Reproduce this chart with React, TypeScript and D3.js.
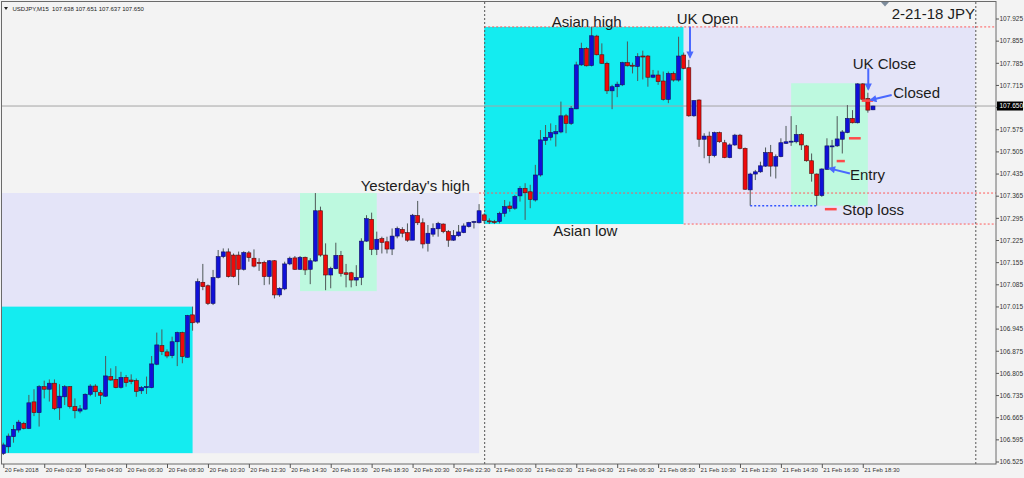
import React from 'react';
import * as d3 from 'd3';

// ---- Data (USDJPY M15, bar index 0 = 21 Feb 00:00) ----
const firstBar = -94;
const opens = [
  106.552,106.573,106.605,106.626,106.647,106.631,106.715,106.681,106.763,106.755,
  106.774,106.696,106.731,106.763,106.700,106.686,106.692,106.739,106.765,106.744,
  106.733,106.795,106.786,106.761,106.792,106.784,106.782,106.750,106.760,106.760,
  106.834,106.893,106.873,106.861,106.905,106.934,106.856,106.990,106.967,107.093,
  107.082,107.026,107.108,107.174,107.189,107.179,107.179,107.134,107.186,107.169,
  107.156,107.156,107.111,107.161,107.053,107.072,107.151,107.170,107.134,107.172,
  107.134,107.160,107.319,107.179,107.116,107.136,107.178,107.123,107.123,107.100,
  107.108,107.223,107.292,107.197,107.231,107.221,107.198,107.239,107.260,107.250,
  107.226,107.304,107.281,107.216,107.245,107.262,107.277,107.253,107.226,107.240,
  107.250,107.269,107.282,107.281,107.306,107.287,107.285,107.285,107.311,107.334,
  107.327,107.366,107.390,107.379,107.353,107.432,107.541,107.551,107.562,107.568,
  107.619,107.595,107.641,107.780,107.832,107.778,107.871,107.812,107.785,107.698,
  107.711,107.717,107.787,107.779,107.775,107.808,107.808,107.741,107.748,107.729,
  107.671,107.753,107.732,107.811,107.771,107.619,107.669,107.545,107.555,107.493,
  107.566,107.534,107.487,107.527,107.558,107.516,107.385,107.435,107.442,107.460,
  107.503,107.460,107.490,107.532,107.537,107.537,107.560,107.524,107.477,107.435,
  107.367,107.450,107.521,107.524,107.545,107.566,107.611,107.597,107.720,107.674,
  107.638,
];
const highs = [
  106.586,106.615,106.642,106.658,106.652,106.737,106.755,106.768,106.782,106.786,
  106.786,106.771,106.768,106.765,106.726,106.705,106.742,106.771,106.771,106.752,
  106.860,106.821,106.828,106.810,106.800,106.802,106.789,106.765,106.795,106.860,
  106.934,106.944,106.881,106.921,106.937,106.937,106.990,107.016,107.105,107.151,
  107.086,107.132,107.195,107.200,107.200,107.184,107.190,107.191,107.192,107.197,
  107.169,107.161,107.163,107.163,107.077,107.158,107.174,107.176,107.176,107.174,
  107.169,107.375,107.332,107.216,107.142,107.218,107.192,107.151,107.126,107.147,
  107.232,107.305,107.313,107.253,107.237,107.237,107.263,107.269,107.267,107.279,
  107.309,107.350,107.295,107.274,107.279,107.284,107.279,107.258,107.258,107.274,
  107.279,107.284,107.287,107.340,107.311,107.295,107.290,107.316,107.353,107.348,
  107.369,107.397,107.406,107.401,107.464,107.574,107.590,107.595,107.590,107.664,
  107.625,107.650,107.790,107.850,107.836,107.901,107.875,107.848,107.790,107.717,
  107.727,107.790,107.854,107.787,107.817,107.825,107.811,107.764,107.762,107.759,
  107.759,107.759,107.869,107.819,107.796,107.669,107.671,107.564,107.569,107.569,
  107.569,107.543,107.532,107.562,107.562,107.519,107.439,107.448,107.474,107.519,
  107.527,107.497,107.548,107.587,107.618,107.590,107.564,107.527,107.500,107.437,
  107.453,107.548,107.543,107.618,107.574,107.653,107.637,107.722,107.722,107.692,
  107.651,
];
const lows = [
  106.547,106.554,106.586,106.618,106.628,106.629,106.670,106.637,106.726,106.716,
  106.689,106.658,106.705,106.694,106.663,106.679,106.689,106.733,106.731,106.708,
  106.731,106.782,106.758,106.757,106.763,106.771,106.731,106.740,106.740,106.758,
  106.831,106.863,106.853,106.853,106.828,106.837,106.855,106.940,106.962,107.068,
  107.021,107.021,107.105,107.169,107.108,107.108,107.084,107.130,107.158,107.140,
  107.129,107.084,107.086,107.042,107.047,107.068,107.147,107.132,107.132,107.116,
  107.087,107.158,107.174,107.068,107.074,107.134,107.111,107.077,107.077,107.081,
  107.084,107.221,107.179,107.179,107.184,107.184,107.179,107.232,107.235,107.221,
  107.226,107.274,107.200,107.190,107.237,107.237,107.248,107.205,107.224,107.237,
  107.248,107.266,107.263,107.279,107.279,107.277,107.277,107.279,107.300,107.316,
  107.322,107.348,107.290,107.327,107.348,107.427,107.527,107.541,107.522,107.564,
  107.564,107.590,107.640,107.777,107.775,107.775,107.810,107.783,107.688,107.640,
  107.678,107.713,107.775,107.753,107.729,107.734,107.711,107.738,107.717,107.667,
  107.659,107.727,107.727,107.766,107.616,107.616,107.521,107.485,107.469,107.488,
  107.534,107.485,107.485,107.524,107.513,107.385,107.335,107.416,107.439,107.458,
  107.427,107.421,107.488,107.530,107.524,107.532,107.511,107.474,107.411,107.335,
  107.363,107.448,107.453,107.521,107.500,107.564,107.595,107.595,107.669,107.629,
  107.637,
];
const closes = [
  106.579,106.607,106.628,106.651,106.631,106.712,106.681,106.763,106.755,106.774,
  106.694,106.733,106.763,106.700,106.687,106.693,106.739,106.765,106.747,106.736,
  106.797,106.784,106.760,106.792,106.776,106.779,106.748,106.760,106.763,106.835,
  106.895,106.874,106.860,106.905,106.934,106.858,106.988,106.965,107.095,107.079,
  107.026,107.108,107.174,107.189,107.111,107.111,107.134,107.187,107.171,107.144,
  107.153,107.111,107.161,107.053,107.074,107.151,107.169,107.134,107.172,107.132,
  107.161,107.319,107.179,107.116,107.137,107.178,107.121,107.118,107.100,107.108,
  107.223,107.294,107.197,107.229,107.219,107.198,107.239,107.263,107.248,107.226,
  107.305,107.281,107.214,107.248,107.263,107.279,107.253,107.226,107.241,107.252,
  107.271,107.282,107.285,107.319,107.288,107.286,107.284,107.311,107.332,107.326,
  107.364,107.390,107.376,107.355,107.432,107.543,107.551,107.566,107.569,107.619,
  107.595,107.643,107.780,107.832,107.777,107.872,107.812,107.785,107.698,107.711,
  107.719,107.787,107.777,107.776,107.806,107.806,107.741,107.748,107.727,107.671,
  107.753,107.732,107.808,107.769,107.619,107.667,107.545,107.555,107.493,107.566,
  107.537,107.487,107.527,107.558,107.516,107.387,107.435,107.442,107.461,107.503,
  107.460,107.490,107.534,107.537,107.539,107.560,107.527,107.477,107.437,107.367,
  107.451,107.524,107.524,107.546,107.568,107.611,107.597,107.720,107.671,107.637,
  107.650,
];

// price axis ticks
const priceTicks = [
  107.925,107.855,107.785,107.715,107.645,107.575,107.505,107.435,107.365,107.295,
  107.225,107.155,107.085,107.015,106.945,106.875,106.805,106.735,106.665,106.595,106.525,
];
// time axis ticks (bar index) and their labels
const timeTickBars = [-94,-86,-78,-70,-62,-54,-46,-38,-30,-22,-14,-6,2,10,18,26,34,42,50,58,66,74];
const timeTickLabels = [
  '20 Feb 2018','20 Feb 02:30','20 Feb 04:30','20 Feb 06:30','20 Feb 08:30','20 Feb 10:30',
  '20 Feb 12:30','20 Feb 14:30','20 Feb 16:30','20 Feb 18:30','20 Feb 20:30','20 Feb 22:30',
  '21 Feb 00:30','21 Feb 02:30','21 Feb 04:30','21 Feb 06:30','21 Feb 08:30','21 Feb 10:30',
  '21 Feb 12:30','21 Feb 14:30','21 Feb 16:30','21 Feb 18:30',
];
// day separators (bar index)
const daySeparators = [0, 96];

// session boxes
const sessionKind = ['day', 'asian', 'london', 'asian', 'day', 'london'];
const sessionFrom = [-96, -96, -36, 0, 39, 60];
const sessionTo = [-1, -57, -21, 39, 96, 75];
const sessionHigh = [107.375, 107.016, 107.375, 107.900, 107.900, 107.722];
const sessionLow = [106.553, 106.553, 107.065, 107.277, 107.277, 107.335];

// key levels (red dotted), from bar to right edge
const levelPrices = [107.900, 107.375, 107.277];
const levelFrom = [0, -1, 39];

// stop-loss double bottom (blue dotted)
const stopLineFrom = 52;
const stopLineTo = 65;
const stopLinePrice = 107.335;

// red trade marks
const markFrom = [66.6, 68.9, 71.3, 73.8];
const markTo = [68.9, 70.5, 73.6, 76.0];
const markPrice = [107.324, 107.476, 107.548, 107.667];

// annotation texts
const noteText = ['Asian high', 'UK Open', '2-21-18 JPY', 'UK Close', 'Closed', "Yesterday's high", 'Entry', 'Stop loss', 'Asian low'];
const noteBar = [13.19, 37.63, 79.65, 72.03, 79.97, -24.14, 71.5, 70.0, 13.5];
const notePrice = [107.901, 107.908, 107.925, 107.766, 107.674, 107.381, 107.416, 107.306, 107.240];

// arrows
const arrowFromBar = [40.23, 75.08, 79.65, 71.5];
const arrowFromPrice = [107.901, 107.769, 107.685, 107.437];
const arrowToBar = [40.23, 75.08, 75.55, 67.46];
const arrowToPrice = [107.804, 107.703, 107.669, 107.453];

const symbolName = 'USDJPY,M15';

// ---- Layout ----
const W = 1024;
const H = 478;
const plot = { left: 2, top: 2, right: 996, bottom: 464 };

const sessionFill: Record<string, string> = {
  day: '#e4e4f8',
  asian: '#14ecf0',
  london: '#bdf9df',
};

export default function App() {
  const x = d3.scaleLinear().domain([-94, 96]).range([3.3, 975.3]);
  const y = d3.scaleLinear().domain([106.525, 107.925]).range([462, 19]);

  const bars = d3.range(opens.length).map((i) => ({
    k: firstBar + i,
    o: opens[i],
    h: highs[i],
    l: lows[i],
    c: closes[i],
  }));
  const last = bars[bars.length - 1];
  const bw = 4;
  const fmt = d3.format('.3f');
  const font = '"Liberation Sans", Arial, sans-serif';

  return (
    <div style={{ position: 'absolute', left: 0, top: 0, width: W, height: H }}>
      <svg width={W} height={H} style={{ display: 'block', fontFamily: font }}>
        <defs>
          <clipPath id="plotClip">
            <rect x={plot.left} y={plot.top} width={plot.right - plot.left} height={plot.bottom - plot.top} />
          </clipPath>
          <marker id="arrowBlue" viewBox="0 0 10 10" refX="8" refY="5" markerWidth="4.2" markerHeight="3.6"
            orient="auto" markerUnits="strokeWidth">
            <path d="M0,0 L10,5 L0,10 z" fill="#4a68ff" />
          </marker>
        </defs>

        <rect x={0} y={0} width={W} height={H} fill="#f3f3f3" />

        <g clipPath="url(#plotClip)">
          {/* session boxes */}
          {sessionKind.map((kind, i) => (
            <rect key={'s' + i}
              x={x(sessionFrom[i])}
              y={y(sessionHigh[i])}
              width={x(sessionTo[i]) - x(sessionFrom[i])}
              height={y(sessionLow[i]) - y(sessionHigh[i])}
              fill={sessionFill[kind]} />
          ))}

          {/* day separators */}
          {daySeparators.map((k) => (
            <line key={'d' + k} x1={x(k) + 0.5} x2={x(k) + 0.5} y1={plot.top} y2={plot.bottom}
              stroke="#555" strokeWidth={1} strokeDasharray="2,2" />
          ))}

          {/* key levels */}
          {levelPrices.map((p, i) => (
            <line key={'l' + i} x1={x(levelFrom[i])} x2={plot.right} y1={y(p)} y2={y(p)}
              stroke="#ff5a5a" strokeWidth={1} strokeDasharray="2,2" />
          ))}

          {/* bid line */}
          <line x1={plot.left} x2={plot.right} y1={y(last.c)} y2={y(last.c)} stroke="#a4a4a4" strokeWidth={1} />

          {/* candles */}
          {bars.map((b) => {
            const cx = x(b.k);
            const up = b.c >= b.o;
            const yTop = y(Math.max(b.o, b.c));
            const hgt = Math.max(1, Math.abs(y(b.o) - y(b.c)));
            return (
              <g key={'c' + b.k}>
                <line x1={cx} x2={cx} y1={y(b.h)} y2={y(b.l)} stroke="#4e5858" strokeWidth={1} />
                <rect x={cx - bw / 2} y={yTop} width={bw} height={hgt}
                  fill={up ? '#1010d8' : '#ee0a0a'}
                  stroke={up ? '#101060' : '#501010'} strokeWidth={0.6} />
              </g>
            );
          })}

          {/* stop loss line */}
          <line x1={x(stopLineFrom)} x2={x(stopLineTo)} y1={y(stopLinePrice)} y2={y(stopLinePrice)}
            stroke="#3355ff" strokeWidth={1.5} strokeDasharray="2,2" />

          {/* red trade marks */}
          {markPrice.map((p, i) => (
            <line key={'m' + i} x1={x(markFrom[i])} x2={x(markTo[i])} y1={y(p)} y2={y(p)}
              stroke="#ff4a4a" strokeWidth={2.5} />
          ))}

          {/* arrows */}
          {arrowFromBar.map((k, i) => (
            <line key={'a' + i} x1={x(k)} y1={y(arrowFromPrice[i])} x2={x(arrowToBar[i])} y2={y(arrowToPrice[i])}
              stroke="#4a68ff" strokeWidth={2} markerEnd="url(#arrowBlue)" />
          ))}
        </g>

        {/* annotation texts */}
        {noteText.map((t, i) => (
          <text key={'n' + i} x={x(noteBar[i])} y={y(notePrice[i])} fontSize={15} fill="#1c1c1c">{t}</text>
        ))}

        {/* shift marker */}
        <path d="M881,2 L889,2 L885,6.5 Z" fill="#7d8c9c" />

        {/* header */}
        <path d="M4,7 L8,7 L6,10 Z" fill="#222" />
        <text x={12.5} y={10.6} fontSize={6} fill="#222" style={{ whiteSpace: 'pre' }}>
          {`${symbolName}  ${fmt(last.o)} ${fmt(last.h)} ${fmt(last.l)} ${fmt(last.c)}`}
        </text>

        {/* frame */}
        <rect x={plot.left - 0.5} y={plot.top - 0.5} width={plot.right - plot.left + 0.5} height={plot.bottom - plot.top + 0.5}
          fill="none" stroke="#6a6a6a" strokeWidth={1} />

        {/* price axis */}
        {priceTicks.map((p) => (
          <g key={'p' + p}>
            <line x1={plot.right} x2={plot.right + 3} y1={y(p)} y2={y(p)} stroke="#555" strokeWidth={1} />
            <text x={999.5} y={y(p)} dy="0.35em" fontSize={6.5} fill="#333">{fmt(p)}</text>
          </g>
        ))}
        <rect x={997} y={y(last.c) - 4.5} width={26} height={9} fill="#000" />
        <text x={999.5} y={y(last.c)} dy="0.35em" fontSize={6.5} fill="#fff">{fmt(last.c)}</text>

        {/* time axis */}
        {timeTickBars.map((k, i) => (
          <g key={'t' + k}>
            <line x1={x(k) + 0.5} x2={x(k) + 0.5} y1={plot.bottom} y2={plot.bottom + 4} stroke="#555" strokeWidth={1} />
            <text x={x(k) + 1.5} y={472} fontSize={6} fill="#333">{timeTickLabels[i]}</text>
          </g>
        ))}
      </svg>
    </div>
  );
}
